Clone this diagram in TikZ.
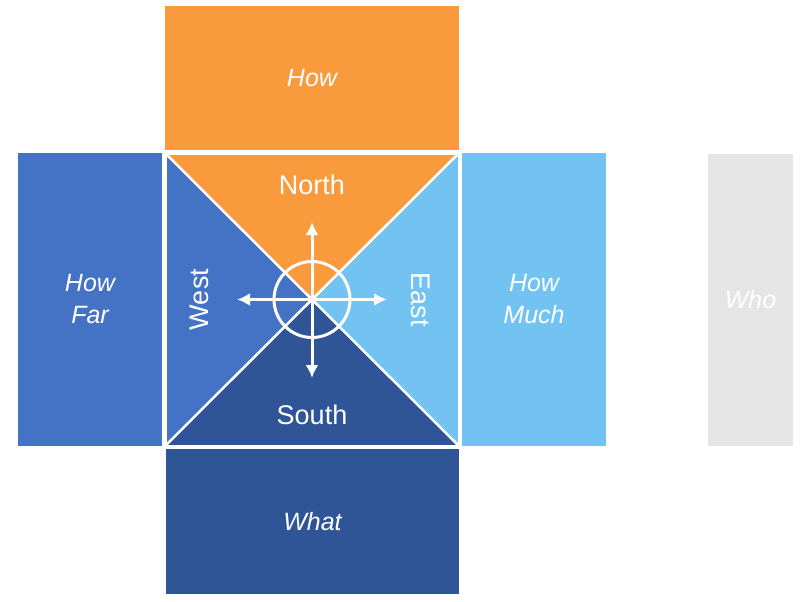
\documentclass[tikz,border=0pt]{standalone}
\usepackage{fontspec}
\setmainfont{Liberation Sans}
\usetikzlibrary{positioning,arrows.meta}
\definecolor{howorange}{RGB}{249,155,60}
\definecolor{farblue}{RGB}{68,114,196}
\definecolor{muchblue}{RGB}{114,195,242}
\definecolor{whatblue}{RGB}{47,85,151}
\definecolor{whogray}{RGB}{229,229,229}
\begin{document}
\begin{tikzpicture}[x=1pt,y=-1pt,
  panel/.style={fill=#1,text=white,inner sep=0pt,align=center,
    font=\itshape\fontsize{25}{32}\selectfont},
  compass/.style={text=white,inner sep=0pt,font=\fontsize{27}{32}\selectfont},
  whiteline/.style={draw=white,line width=#1}]
\useasboundingbox (0,0) rectangle (811,602);
% Panels
\node[panel=howorange,minimum width=294pt,minimum height=144pt] (how) at (312,78) {How}; % top
\node[panel=farblue,minimum width=144pt,minimum height=293pt] (far) at (90,299.5) {How\\Far}; % left
\node[panel=muchblue,minimum width=144pt,minimum height=293pt] (much) at (534,299.5) {How\\Much}; % right
\node[panel=whatblue,minimum width=293pt,minimum height=145pt] (what) at (312.5,521.5) {What}; % bottom
\node[panel=whogray,minimum width=85pt,minimum height=292pt] (who) at (750.5,300) {Who}; % far right
% Square
\coordinate (nw) at (165,153);
\coordinate (ne) at (459,153);
\coordinate (se) at (459,446);
\coordinate (sw) at (165,446);
\coordinate (c) at (312,299.5);
\fill[howorange] (nw) -- (ne) -- (c) -- cycle; % north
\fill[muchblue] (ne) -- (se) -- (c) -- cycle; % east
\fill[whatblue] (se) -- (sw) -- (c) -- cycle; % south
\fill[farblue] (sw) -- (nw) -- (c) -- cycle; % west
\draw[whiteline=2.5pt] (nw) -- (se) (ne) -- (sw);
\draw[whiteline=3pt] (nw) rectangle (se);
% Labels
\node[compass] (north) at (312,185) {North};
\node[compass] (south) at (312,415) {South};
\node[compass,rotate=90] (west) at (199,299.5) {West};
\node[compass,rotate=-90] (east) at (421,299.5) {East};
% Compass rose
\draw[whiteline=3pt] (c) circle (38);
\coordinate (up) at (312,222);
\coordinate (down) at (312,378);
\coordinate (lft) at (237,299.5);
\coordinate (rgt) at (387,299.5);
\draw[whiteline=3pt,-{Latex[length=13pt,width=13pt]}] (c) -- (up);
\draw[whiteline=3pt,-{Latex[length=13pt,width=13pt]}] (c) -- (down);
\draw[whiteline=3pt,-{Latex[length=13pt,width=13pt]}] (c) -- (lft);
\draw[whiteline=3pt,-{Latex[length=13pt,width=13pt]}] (c) -- (rgt);
\end{tikzpicture}
\end{document}
